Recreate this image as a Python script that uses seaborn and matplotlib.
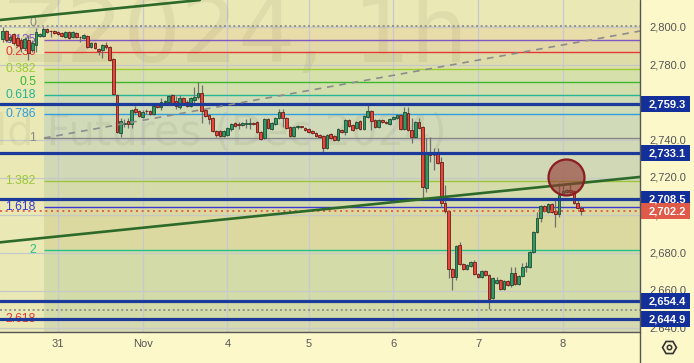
import numpy as np
import pandas as pd
import seaborn as sns
import matplotlib
matplotlib.use("Agg")
import matplotlib.pyplot as plt
from matplotlib.transforms import Affine2D
from matplotlib.patches import Rectangle
from matplotlib.lines import Line2D

# ---------------- data ----------------
opens = [2793.7, 2798.1, 2793.4, 2796.5, 2794.4, 2793.4, 2789.1, 2793.4, 2788.0, 2790.7,
         2795.5, 2795.5, 2799.2, 2798.1, 2798.1, 2797.6, 2797.1, 2795.0, 2797.6, 2795.0,
         2797.1, 2795.0, 2794.4, 2795.5, 2789.6, 2791.8, 2788.6, 2788.0, 2790.7, 2789.6,
         2783.3, 2764.1, 2743.9, 2748.7, 2750.3, 2748.7, 2756.7, 2755.6, 2752.6, 2755.6,
         2755.6, 2754.0, 2758.8, 2757.7, 2760.6, 2760.6, 2764.1, 2760.9, 2757.9, 2762.5,
         2760.6, 2758.4, 2761.4, 2763.0, 2765.2, 2756.1, 2753.5, 2751.9, 2745.1, 2744.9,
         2742.3, 2742.8, 2746.0, 2749.2, 2748.4, 2748.1, 2748.7, 2748.9, 2749.0, 2749.7,
         2744.4, 2741.2, 2751.3, 2746.0, 2748.7, 2751.9, 2755.1, 2751.9, 2747.1, 2742.3,
         2747.1, 2747.2, 2746.6, 2746.0, 2744.9, 2743.9, 2742.8, 2742.3, 2735.9, 2743.3,
         2742.3, 2740.2, 2745.5, 2744.4, 2750.8, 2748.1, 2746.6, 2750.3, 2746.0, 2752.4,
         2755.6, 2750.8, 2747.1, 2750.8, 2749.7, 2748.7, 2751.3, 2751.9, 2753.5, 2746.0,
         2754.5, 2745.5, 2741.8, 2749.7, 2747.1, 2714.6, 2733.8, 2732.2, 2732.7, 2728.4,
         2706.6, 2702.4, 2671.5, 2667.3, 2684.3, 2674.2, 2671.5, 2673.1, 2675.3, 2668.9,
         2667.3, 2670.5, 2668.3, 2656.1, 2664.1, 2665.7, 2660.9, 2665.2, 2663.0, 2669.4,
         2663.6, 2667.8, 2672.6, 2672.6, 2680.6, 2691.2, 2698.7, 2705.1, 2701.9, 2706.1,
         2702.4, 2700.8, 2711.4, 2712.5, 2713.6, 2713.0, 2706.6, 2704.0]
highs = [2800.4, 2798.7, 2796.0, 2797.1, 2795.5, 2794.4, 2795.0, 2796.0, 2793.4, 2799.7,
         2797.1, 2800.3, 2799.7, 2798.7, 2798.5, 2798.0, 2797.6, 2798.1, 2798.1, 2798.1,
         2797.6, 2795.5, 2796.5, 2796.0, 2792.3, 2792.3, 2789.1, 2791.2, 2792.3, 2790.2,
         2783.8, 2764.6, 2751.9, 2751.3, 2751.9, 2756.7, 2758.2, 2756.1, 2756.1, 2756.4,
         2756.1, 2758.8, 2759.3, 2762.5, 2761.4, 2764.1, 2764.6, 2763.6, 2764.1, 2763.0,
         2761.4, 2763.0, 2768.5, 2771.2, 2769.4, 2756.6, 2754.0, 2752.4, 2745.6, 2745.5,
         2745.6, 2747.1, 2749.2, 2749.7, 2749.7, 2749.7, 2751.3, 2751.9, 2749.7, 2750.3,
         2745.0, 2752.0, 2752.0, 2749.7, 2752.4, 2756.7, 2756.7, 2752.4, 2747.6, 2747.6,
         2748.1, 2747.6, 2747.1, 2746.6, 2745.5, 2744.4, 2743.3, 2742.8, 2743.3, 2743.9,
         2742.8, 2746.6, 2746.0, 2751.3, 2751.3, 2748.7, 2750.3, 2750.8, 2753.5, 2758.8,
         2756.1, 2751.3, 2751.3, 2751.3, 2750.3, 2751.9, 2752.9, 2754.0, 2754.0, 2757.9,
         2757.5, 2751.7, 2750.3, 2751.7, 2747.6, 2741.2, 2741.9, 2735.9, 2735.9, 2731.3,
         2716.2, 2702.9, 2672.0, 2684.3, 2685.9, 2674.7, 2674.2, 2675.8, 2676.3, 2669.4,
         2671.0, 2671.0, 2668.9, 2667.3, 2667.5, 2666.2, 2665.7, 2665.7, 2672.8, 2672.8,
         2668.3, 2674.6, 2675.2, 2681.1, 2691.7, 2702.0, 2705.6, 2705.6, 2706.6, 2706.6,
         2709.3, 2717.1, 2716.2, 2714.1, 2717.1, 2713.6, 2708.2, 2705.1]
lows = [2792.4, 2792.4, 2792.3, 2790.7, 2789.6, 2787.0, 2788.0, 2782.7, 2787.0, 2787.0,
        2795.0, 2795.0, 2797.1, 2795.0, 2796.8, 2796.0, 2795.0, 2794.4, 2793.9, 2794.4,
        2794.4, 2792.3, 2793.9, 2789.1, 2789.1, 2788.6, 2785.4, 2783.8, 2788.6, 2782.2,
        2764.1, 2743.9, 2741.8, 2747.1, 2746.6, 2746.6, 2754.0, 2752.4, 2752.0, 2754.2,
        2753.5, 2753.5, 2757.2, 2756.1, 2759.8, 2760.0, 2759.5, 2756.8, 2756.6, 2759.3,
        2757.9, 2757.9, 2760.0, 2762.0, 2749.0, 2752.4, 2748.7, 2744.6, 2741.9, 2741.5,
        2741.5, 2742.3, 2744.9, 2747.1, 2746.0, 2747.6, 2746.6, 2746.0, 2748.1, 2744.0,
        2740.2, 2740.7, 2746.0, 2745.5, 2748.1, 2751.3, 2747.2, 2746.0, 2741.8, 2741.8,
        2746.0, 2746.6, 2745.0, 2744.0, 2743.3, 2741.8, 2741.2, 2733.2, 2735.4, 2740.7,
        2739.7, 2739.7, 2743.9, 2742.8, 2747.1, 2745.0, 2746.0, 2745.5, 2745.5, 2751.9,
        2745.5, 2746.6, 2746.6, 2749.2, 2748.7, 2748.1, 2750.8, 2751.3, 2745.5, 2745.5,
        2745.0, 2738.4, 2741.2, 2746.0, 2709.3, 2712.5, 2728.6, 2724.2, 2727.5, 2704.7,
        2701.3, 2666.6, 2660.4, 2665.7, 2673.7, 2671.0, 2671.0, 2672.6, 2668.3, 2666.8,
        2666.8, 2667.8, 2650.3, 2655.6, 2663.6, 2660.4, 2660.4, 2662.5, 2662.0, 2663.0,
        2663.0, 2667.3, 2670.1, 2672.0, 2680.0, 2690.7, 2696.7, 2701.9, 2701.3, 2701.3,
        2693.9, 2699.4, 2710.9, 2712.0, 2712.0, 2706.1, 2703.5, 2700.3]
closes = [2798.1, 2793.4, 2795.0, 2791.8, 2790.7, 2789.1, 2793.9, 2786.4, 2791.8, 2797.6,
          2796.5, 2799.2, 2797.6, 2797.9, 2797.1, 2796.5, 2795.5, 2797.6, 2794.4, 2797.6,
          2795.0, 2794.8, 2796.0, 2789.6, 2791.8, 2789.1, 2787.5, 2790.7, 2789.6, 2782.7,
          2764.6, 2744.4, 2750.3, 2749.2, 2748.7, 2756.1, 2755.1, 2753.0, 2755.2, 2755.4,
          2754.0, 2758.2, 2757.7, 2760.4, 2760.9, 2763.6, 2760.0, 2758.4, 2762.5, 2759.8,
          2758.4, 2762.5, 2763.2, 2765.2, 2755.8, 2753.0, 2751.3, 2745.1, 2742.8, 2742.3,
          2745.1, 2746.6, 2748.7, 2747.8, 2748.2, 2749.2, 2748.9, 2749.0, 2748.9, 2744.4,
          2740.7, 2751.3, 2746.6, 2749.2, 2751.9, 2755.1, 2751.9, 2746.6, 2742.3, 2747.1,
          2747.2, 2747.0, 2745.5, 2744.4, 2743.9, 2742.3, 2741.8, 2735.9, 2742.8, 2741.2,
          2740.2, 2746.0, 2744.4, 2750.8, 2747.6, 2745.5, 2749.7, 2746.0, 2752.9, 2755.6,
          2750.3, 2747.1, 2750.8, 2749.7, 2749.2, 2751.3, 2752.4, 2753.5, 2746.0, 2755.1,
          2745.5, 2741.8, 2749.7, 2746.6, 2715.2, 2733.8, 2732.2, 2732.0, 2728.0, 2706.6,
          2702.4, 2671.5, 2667.3, 2683.8, 2674.2, 2671.5, 2673.7, 2675.3, 2668.9, 2667.3,
          2670.5, 2668.3, 2655.6, 2666.8, 2665.7, 2660.9, 2665.2, 2663.0, 2669.4, 2663.6,
          2667.8, 2672.6, 2672.8, 2680.6, 2691.2, 2698.7, 2705.1, 2702.4, 2706.1, 2701.9,
          2700.8, 2710.9, 2713.0, 2713.6, 2712.5, 2706.6, 2704.0, 2702.2]

day_labels = ["31", "Nov", "4", "5", "6", "7", "8"]
day_bars = [15, 38, 61, 83, 106, 129, 152]

price_ticks = [2640, 2660, 2680, 2700, 2720, 2740, 2760, 2780, 2800]

# Fibonacci tool
fib_high = 2800.8
fib_low = 2741.2
fib_start_bar = 11.2
fib_levels = [0.125, 0.236, 0.382, 0.5, 0.618, 0.786, 1, 1.382, 1.618, 2, 2.618]
fib_labels = ["0.125", "0.236", "0.382", "0.5", "0.618", "0.786", "1", "1.382", "1.618", "2", "2.618"]

# horizontal drawn lines / price badges
level_prices = [2759.3, 2733.1, 2708.5, 2654.4, 2644.9]
last_price = 2702.2
dotted_gray_prices = [2800.8, 2649.7]

# trend lines (bar, price) anchors
channel_low = [(-0.73, 2685.7), (172.94, 2720.5)]
channel_high = [(-0.73, 2804.0), (53.5, 2814.6)]
dashed_line = [(11.2, 2741.2), (172.94, 2798.1)]
circle_bar, circle_price = 152.9, 2720.2

# ---------------- style ----------------
sns.set_style("white")
plt.rcParams["font.family"] = ["Liberation Sans", "DejaVu Sans"]

W, H = 694, 363
fig = plt.figure(figsize=(W / 100, H / 100), dpi=100, facecolor="#fdf8c9")
ax = fig.add_axes([0, 31 / H, 640 / W, 332 / H])
XMIN, XMAX = -0.733, 172.94
YMIN, YMAX = 2638.0, 2814.63
ax.set_xlim(XMIN, XMAX)
ax.set_ylim(YMIN, YMAX)
ax.set_facecolor("#eae8b5")
for s in ["top", "left", "right"]:
    ax.spines[s].set_visible(False)
ax.spines["bottom"].set_color("#555555")
ax.spines["bottom"].set_linewidth(1.0)
ax.set_yticks([])
ax.set_xticks(day_bars)
ax.set_xticklabels(day_labels)
ax.tick_params(axis="x", length=0, pad=5, labelsize=8, labelcolor="#555555")

fib_prices = [fib_high - l * (fib_high - fib_low) for l in fib_levels]
fib_colors = ["#7e57c2", "#e53935", "#9acd32", "#3cb832", "#26b595", "#2f9ee0",
              "#888888", "#9bc53d", "#3a3ad0", "#22c08a", "#e53935"]
zone_colors = ["#e8dca9", "#e4d7a8", "#dedda9", "#d6e0ab", "#d2dfad", "#cfdcb5",
               "#d0dab9", "#d0d8b6", "#d5dbab", "#dbd99f", "#d3dba9", "#d6d8b0"]

# fib fills
bounds = [fib_high] + fib_prices + [YMIN - 10]
for k in range(len(bounds) - 1):
    ax.fill_between([fib_start_bar, XMAX + 5], bounds[k + 1], bounds[k],
                    color=zone_colors[k], lw=0, zorder=0.3)

# grid
for p in price_ticks:
    ax.axhline(p, color="#c6cac6", lw=0.9, zorder=0.6)
for d in day_bars:
    ax.axvline(d, color="#c6cad0", lw=0.9, zorder=0.6)

# watermark
pix = Affine2D().scale(1, -1).translate(0, H)
ax.text(468, 62, "GCZ2024, 1h", transform=pix, ha="right", va="baseline",
        fontsize=65, family="DejaVu Sans", color=(0.45, 0.45, 0.3), alpha=0.10, zorder=0.7)
ax.text(447, 145, "Gold Futures (Dec 2024)", transform=pix, ha="right", va="baseline",
        fontsize=30, family="DejaVu Sans", color=(0.45, 0.45, 0.3), alpha=0.10, zorder=0.7)

# fib lines + labels
for p, lab, c in zip(fib_prices, fib_labels, fib_colors):
    ax.hlines(p, fib_start_bar, XMAX + 5, color=c, lw=1.0, zorder=2)
    ax.text(36 / 640, p, lab, transform=ax.get_yaxis_transform(), ha="right",
            va="center", fontsize=8.8, color=c, zorder=2.5)
ax.text(36 / 640, fib_high + 1.5, "0", transform=ax.get_yaxis_transform(), ha="right",
        va="center", fontsize=8.8, color="#888888", zorder=2.5)

# candles
df = pd.DataFrame({"open": opens, "high": highs, "low": lows, "close": closes})
df["bar"] = np.arange(len(df))
up = df["close"] >= df["open"]
ax.vlines(df["bar"], df["low"], df["high"], color="#6f6f6f", lw=0.9, zorder=3)
body_lo = df[["open", "close"]].min(axis=1)
body_h = (df["close"] - df["open"]).abs().clip(lower=0.35)
ax.bar(df["bar"][up], body_h[up], bottom=body_lo[up], width=0.72,
       color="#2f9a66", edgecolor="#1d4d33", linewidth=0.6, zorder=3.5)
ax.bar(df["bar"][~up], body_h[~up], bottom=body_lo[~up], width=0.72,
       color="#e8453c", edgecolor="#6b1d14", linewidth=0.6, zorder=3.5)

# drawn lines
for p in dotted_gray_prices:
    ax.axhline(p, color="#8a8a8a", lw=1.2, ls=(0, (1.2, 1.6)), zorder=4)
ax.axhline(last_price, color="#e0503c", lw=1.2, ls=(0, (1.2, 2.2)), zorder=4)
for p in level_prices:
    ax.axhline(p, color="#1b3a9a", lw=2.3, zorder=4.2)

tl = pd.DataFrame(channel_low, columns=["bar", "price"])
sns.lineplot(data=tl, x="bar", y="price", ax=ax, color="#2d6a2a", lw=1.9, zorder=4.5)
th = pd.DataFrame(channel_high, columns=["bar", "price"])
sns.lineplot(data=th, x="bar", y="price", ax=ax, color="#2d6a2a", lw=1.9, zorder=4.5)
td = pd.DataFrame(dashed_line, columns=["bar", "price"])
ax.plot(td["bar"], td["price"], color="#8c8c8c", lw=1.2, ls=(0, (4, 3.5)), zorder=4.4)
ax.set_xlabel("")
ax.set_ylabel("")
ax.set_xlim(XMIN, XMAX)
ax.set_ylim(YMIN, YMAX)

ax.scatter([circle_bar], [circle_price], s=671, facecolors=[(0.58, 0.23, 0.2, 0.62)],
           edgecolors="#8b1d22", linewidths=1.6, zorder=6)

# right price axis
ax2 = fig.add_axes([640 / W, 31 / H, 54 / W, 332 / H])
ax2.set_xlim(0, 54)
ax2.set_ylim(YMIN, YMAX)
ax2.set_facecolor("#fdf8c9")
ax2.set_xticks([])
ax2.set_yticks([])
for s in ax2.spines.values():
    s.set_visible(False)
for p in price_ticks:
    ax2.text(9, p, f"{p:,.1f}", ha="left", va="center", fontsize=8,
             color="#555555", clip_on=True, zorder=1)
for p in level_prices:
    ax2.add_patch(Rectangle((1, p - 4.3), 49, 8.6, color="#13309a", zorder=3, lw=0))
    ax2.text(9, p, f"{p:,.1f}", ha="left", va="center", fontsize=8,
             fontweight="bold", color="white", zorder=4, clip_on=True)
ax2.add_patch(Rectangle((1, last_price - 4.3), 49, 8.6, color="#df5a48", zorder=3, lw=0))
ax2.text(9, last_price, f"{last_price:,.1f}", ha="left", va="center", fontsize=8,
         fontweight="bold", color="white", zorder=4, clip_on=True)

# separators and settings icon
fig.add_artist(Line2D([640 / W, 640 / W], [0, 1], transform=fig.transFigure,
                      color="#555555", lw=1.0))
fig.add_artist(Line2D([669 / W], [1 - 346.5 / H], transform=fig.transFigure,
                      marker="H", markersize=10, mfc="none", mec="#333333", mew=1.2))
fig.add_artist(Line2D([669 / W], [1 - 346.5 / H], transform=fig.transFigure,
                      marker="o", markersize=3.2, mfc="none", mec="#333333", mew=1.1))

fig.savefig("out.png", dpi=100, facecolor=fig.get_facecolor())
